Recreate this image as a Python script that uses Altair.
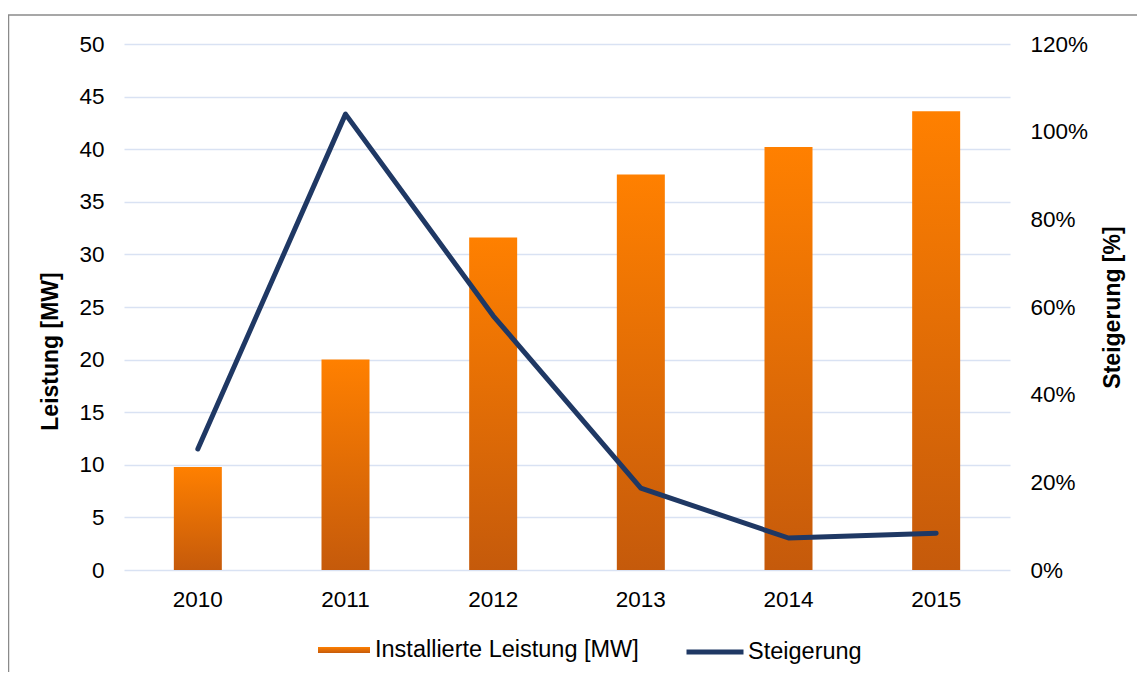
import altair as alt
import pandas as pd

years = ["2010", "2011", "2012", "2013", "2014", "2015"]
leistung = [9.8, 20.0, 31.6, 37.6, 40.2, 43.6]
steigerung = [0.276, 1.04, 0.58, 0.187, 0.073, 0.084]
bar_label = "Installierte Leistung [MW]"
line_label = "Steigerung"
left_ticks = [0, 5, 10, 15, 20, 25, 30, 35, 40, 45, 50]
right_ticks = [0, 0.2, 0.4, 0.6, 0.8, 1.0, 1.2]

df = pd.DataFrame({
    "Jahr": years,
    "Leistung": leistung,
    "Steigerung": steigerung,
    "s1": [bar_label] * len(years),
    "s2": [line_label] * len(years),
})
border_df = pd.DataFrame({"b": [0]})

FONT = "Liberation Sans"
TXT = "#000000"
LBL = 22.5

x = alt.X(
    "Jahr:O",
    scale=alt.Scale(paddingInner=0, paddingOuter=0),
    axis=alt.Axis(title=None, labelAngle=0, labelFontSize=LBL, labelPadding=18,
                  ticks=False, domain=False, labelColor=TXT, grid=False),
)

grad = alt.Gradient(
    gradient="linear",
    stops=[alt.GradientStop(color="#FF8000", offset=0),
           alt.GradientStop(color="#C55A0B", offset=1)],
    x1=0, x2=0, y1=0, y2=1,
)

bars = alt.Chart(df).mark_bar(size=48, color=grad).encode(
    x=x,
    y=alt.Y(
        "Leistung:Q",
        scale=alt.Scale(domain=[0, 50], nice=False),
        axis=alt.Axis(values=left_ticks, title="Leistung [MW]", grid=True,
                      gridColor="#D9E2F3", gridWidth=1.5, ticks=False, domain=False,
                      labelFontSize=LBL, labelPadding=20, labelColor=TXT,
                      titleFontSize=23, titleFontWeight="bold", titleColor=TXT,
                      titlePadding=16, titleY=307),
    ),
    opacity=alt.Opacity(
        "s1:N",
        scale=alt.Scale(range=[1]),
        legend=alt.Legend(title=None, orient="none", legendX=194, legendY=580,
                          symbolType="M-1,-0.12H1V0.12H-1Z", symbolSize=2704,
                          symbolStrokeWidth=0, symbolFillColor="#E87000",
                          labelFontSize=23.5, labelColor=TXT, padding=0, labelOffset=5,
                          labelLimit=0),
    ),
)

line = alt.Chart(df).mark_line(strokeWidth=5, strokeCap="round", strokeJoin="round").encode(
    x=x,
    y=alt.Y(
        "Steigerung:Q",
        scale=alt.Scale(domain=[0, 1.2], nice=False),
        axis=alt.Axis(orient="right", values=right_ticks, format=".0%", grid=False,
                      title="Steigerung [%]", titleAngle=270, ticks=False, domain=False,
                      labelFontSize=LBL, labelPadding=20, labelColor=TXT,
                      titleFontSize=23, titleFontWeight="bold", titleColor=TXT,
                      titlePadding=37),
    ),
    stroke=alt.Stroke(
        "s2:N",
        scale=alt.Scale(range=["#1F3864"]),
        legend=alt.Legend(title=None, orient="none", legendX=560, legendY=577,
                          symbolType="stroke", symbolSize=3249, symbolStrokeWidth=5,
                          labelFontSize=23.5, labelColor=TXT, padding=0, labelOffset=2,
                          labelLimit=0),
    ),
)

border_left = alt.Chart(border_df).mark_rule(color="#8A8A8A", strokeWidth=1.5).encode(
    x=alt.value(-115.5), y=alt.value(-29), y2=alt.value(650)
)
border_top = alt.Chart(border_df).mark_rule(color="#8A8A8A", strokeWidth=1.5).encode(
    x=alt.value(-116), x2=alt.value(1030), y=alt.value(-29)
)

chart = (
    alt.layer(bars, line, border_left, border_top)
    .resolve_scale(y="independent")
    .properties(
        width=886, height=526,
        padding={"left": 116, "top": 36, "right": 127, "bottom": 102},
        autosize=alt.AutoSizeParams(type="none"),
        background="white",
    )
    .configure_view(stroke=None)
    .configure_axis(labelFont=FONT, titleFont=FONT)
    .configure_legend(labelFont=FONT)
)

chart.save("out.html", embed_options={"renderer": "svg", "actions": False})
